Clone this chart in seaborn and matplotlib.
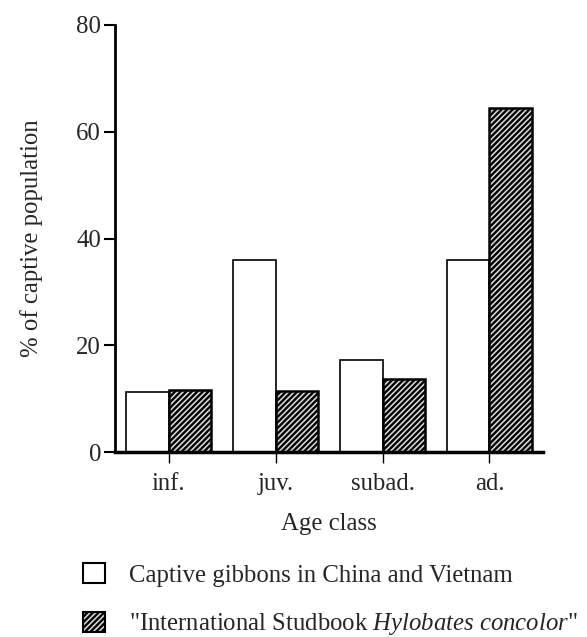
import matplotlib
matplotlib.use("Agg")
import matplotlib.pyplot as plt
import seaborn as sns
import pandas as pd
from matplotlib.patches import Patch

categories = ["inf.", "juv.", "subad.", "ad."]
series_names = ["Captive gibbons in China and Vietnam",
                '"International Studbook $\\it{Hylobates\\ concolor}$"']
china_vietnam = [11.2, 36.0, 17.2, 36.0]
studbook = [11.7, 11.4, 13.7, 64.5]
yticks = [0, 20, 40, 60, 80]

df = pd.DataFrame({
    "Age class": categories * 2,
    "pct": china_vietnam + studbook,
    "series": [series_names[0]] * 4 + [series_names[1]] * 4,
})

sns.set_theme(style="white")
plt.rcParams["font.family"] = ["Liberation Serif", "DejaVu Serif"]
plt.rcParams["mathtext.fontset"] = "custom"
plt.rcParams["mathtext.it"] = "Liberation Serif:italic"
plt.rcParams["mathtext.rm"] = "Liberation Serif"
plt.rcParams["hatch.linewidth"] = 1.7
plt.rcParams["hatch.color"] = "black"

FS = 17.8
HATCH_FACE = "#dcdcdc"
HATCH = "//////"

fig = plt.figure(figsize=(5.87, 6.37), dpi=100)
ax = fig.add_axes([0.196, 0.290, 0.729, 0.671])

sns.barplot(data=df, x="Age class", y="pct", hue="series", order=categories,
            hue_order=series_names, palette=["white", HATCH_FACE], width=0.8,
            edgecolor="black", linewidth=1.2, ax=ax, legend=False, saturation=1)

n = len(categories)
for i, p in enumerate(ax.patches[: 2 * n]):
    if i >= n:
        p.set_hatch(HATCH)
        p.set_facecolor(HATCH_FACE)
        p.set_edgecolor("black")
        p.set_linewidth(1.8)

ax.set_xlim(-0.5, 3.5)
ax.set_ylim(0, 80)
ax.set_yticks(yticks)
ax.set_yticklabels([str(v) for v in yticks])
for s in ["top", "right"]:
    ax.spines[s].set_visible(False)
ax.spines["left"].set_linewidth(2)
ax.spines["bottom"].set_linewidth(2.5)
ax.spines["left"].set_color("black")
ax.spines["bottom"].set_color("black")
ax.tick_params(axis="y", direction="out", length=8, width=1.5, color="black",
               labelsize=FS, pad=2, left=True)
ax.tick_params(axis="x", direction="out", length=8, width=1, color="black",
               labelsize=FS, pad=7, bottom=True)
ax.set_xlabel("Age class", fontsize=FS, labelpad=13)
ax.set_ylabel("% of captive population", fontsize=FS, labelpad=24)

handles = [Patch(facecolor="white", edgecolor="black", linewidth=1.5),
           Patch(facecolor=HATCH_FACE, edgecolor="black", hatch=HATCH, linewidth=1.5)]
fig.legend(handles, series_names, loc="upper left", bbox_to_anchor=(0.141, 0.116),
           frameon=False, fontsize=FS, handlelength=0.88, handleheight=0.88,
           handletextpad=1.0, labelspacing=1.0, borderpad=0, borderaxespad=0)

fig.savefig("out.png", dpi=100)
